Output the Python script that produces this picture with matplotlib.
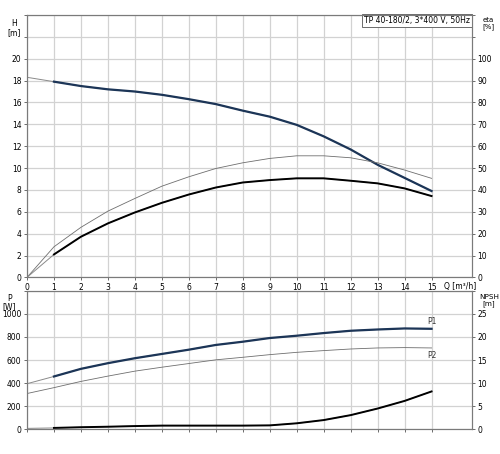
import matplotlib
matplotlib.use('Agg')
import matplotlib.pyplot as plt

# pump curve data
q = [0, 1, 2, 3, 4, 5, 6, 7, 8, 9, 10, 11, 12, 13, 14, 15]
head = [18.3, 17.9, 17.5, 17.2, 17.0, 16.7, 16.3, 15.85, 15.25, 14.7, 13.95, 12.9, 11.7, 10.3, 9.1, 7.9]
eta_pump = [0, 14.0, 22.9, 30.3, 36.1, 41.7, 46.0, 49.8, 52.4, 54.4, 55.6, 55.6, 54.7, 52.4, 49.1, 45.3]
eta_total = [0, 10.5, 18.6, 24.7, 29.7, 34.1, 37.9, 41.1, 43.4, 44.5, 45.3, 45.3, 44.2, 43.0, 40.7, 37.2]
p1 = [395, 458, 524, 573, 616, 653, 690, 731, 759, 791, 811, 834, 854, 865, 874, 871]
p2 = [310, 361, 415, 461, 504, 538, 570, 602, 624, 647, 667, 682, 696, 705, 708, 705]
npsh = [0.2, 0.3, 0.45, 0.56, 0.7, 0.8, 0.8, 0.8, 0.8, 0.85, 1.3, 2.0, 3.07, 4.5, 6.15, 8.2]

q_ticks = list(range(0, 16))
navy = '#1c3557'
thin_grey = '#6e6e6e'
grid_c = '#d2d2d2'
spine_c = '#7a7a7a'
fs = 5.5

fig = plt.figure(figsize=(5.0, 4.54), dpi=100)
ax = fig.add_axes([0.054, 0.389, 0.89, 0.578])
ax_eta = ax.twinx()
bx = fig.add_axes([0.054, 0.0544, 0.89, 0.305])
bx_n = bx.twinx()

# ---- top: head and efficiency ----
ax.plot(q, head, color='#8a8a8a', lw=0.7, zorder=3)
ax.plot(q[1:], head[1:], color=navy, lw=1.6, zorder=4)
ax_eta.plot(q, eta_pump, color=thin_grey, lw=0.6)
ax_eta.plot(q, eta_total, color='#8a8a8a', lw=0.7)
ax_eta.plot(q[1:], eta_total[1:], color='black', lw=1.4)

ax.set_xlim(0, 16.5)
ax.set_ylim(0, 24)
ax_eta.set_ylim(0, 120)
ax.set_xticks(q_ticks)
ax.set_yticks(range(0, 25, 2))
ax.set_yticklabels([str(v) if v <= 20 else '' for v in range(0, 25, 2)])
ax_eta.set_yticks(range(0, 121, 10))
ax_eta.set_yticklabels([str(v) if v <= 100 else '' for v in range(0, 121, 10)])
ax.grid(True, color=grid_c, lw=0.9)
ax.set_axisbelow(True)

ax.text(-0.028, 0.985, 'H\n[m]', transform=ax.transAxes, ha='center', va='top', fontsize=fs, linespacing=1.0)
fig.text(0.976, 0.962, 'eta\n[%]', ha='center', va='top', fontsize=fs - 0.5, linespacing=1.0)
ax.text(15.45, -0.45, 'Q [m³/h]', ha='left', va='top', fontsize=fs)
ax.text(0.995, 0.995, 'TP 40-180/2, 3*400 V, 50Hz', transform=ax.transAxes, ha='right', va='top', fontsize=fs,
        bbox=dict(boxstyle='square,pad=0.25', fc='white', ec='#555555', lw=0.6), zorder=10)

# ---- bottom: power and NPSH ----
bx.plot(q, p1, color='#8a8a8a', lw=0.7, zorder=3)
bx.plot(q[1:], p1[1:], color=navy, lw=1.6, zorder=4)
bx.plot(q, p2, color=thin_grey, lw=0.6, zorder=3)
bx_n.plot(q, npsh, color='#8a8a8a', lw=0.7)
bx_n.plot(q[1:], npsh[1:], color='black', lw=1.4)
bx.text(q[-1], p1[-1] + 25, 'P1', ha='center', va='bottom', fontsize=fs, color='#333333')
bx.text(q[-1], p2[-1] - 25, 'P2', ha='center', va='top', fontsize=fs, color='#333333')

bx.set_xlim(0, 16.5)
bx.set_ylim(0, 1200)
bx_n.set_ylim(0, 30)
bx.set_xticks(q_ticks)
bx.set_xticklabels([])
bx.tick_params(axis='x', length=0)
bx.set_yticks(range(0, 1201, 200))
bx.set_yticklabels([str(v) if v <= 1000 else '' for v in range(0, 1201, 200)])
bx_n.set_yticks(range(0, 31, 5))
bx_n.set_yticklabels([str(v) if v <= 25 else '' for v in range(0, 31, 5)])
bx.grid(True, color=grid_c, lw=0.9)
bx.set_axisbelow(True)

bx.text(-0.04, 0.98, 'P\n[W]', transform=bx.transAxes, ha='center', va='top', fontsize=fs, linespacing=1.0)
fig.text(0.998, 0.352, 'NPSH\n[m]', ha='right', va='top', fontsize=fs - 0.3, linespacing=1.0, multialignment='center')

for a in (ax, ax_eta, bx, bx_n):
    a.tick_params(labelsize=fs, length=2.5, width=0.6, color='#555555', pad=1.5)
    for s in a.spines.values():
        s.set_color(spine_c)
        s.set_linewidth(0.8)
ax.tick_params(axis='x', pad=1.5)

plt.savefig('out.png', dpi=100)
